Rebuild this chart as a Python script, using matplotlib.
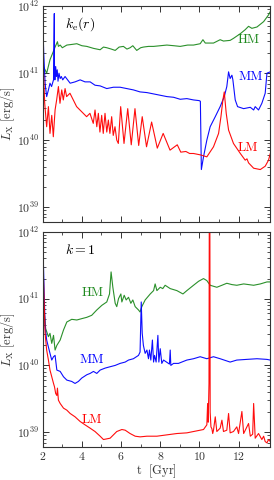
import numpy as np
import matplotlib
matplotlib.use("Agg")
import matplotlib.pyplot as plt
from matplotlib.ticker import MultipleLocator, LogLocator, NullFormatter

plt.rcParams['font.family'] = 'serif'
plt.rcParams['font.serif'] = ['cmr10', 'DejaVu Serif']
plt.rcParams['mathtext.fontset'] = 'cm'
plt.rcParams['axes.formatter.use_mathtext'] = True

# ---------------- data (log10 of L_X in erg/s) ----------------
# top panel: k_e(r)
top_hm_t = [2.00, 2.03, 2.12, 2.20, 2.37, 2.55, 2.63, 2.75, 2.80, 2.89, 3.00, 3.23, 3.50, 3.74, 4.00, 4.25,
            4.60, 4.93, 5.10, 5.27, 5.50, 5.70, 5.90, 6.12, 6.30, 6.46, 6.60, 6.80, 7.00, 7.14, 7.40, 7.66,
            8.00, 8.34, 8.70, 9.02, 9.40, 9.70, 10.04, 10.18, 10.30, 10.50, 10.72, 11.06, 11.23, 11.57,
            11.74, 12.09, 12.34, 12.51, 12.68, 12.94, 13.28, 13.53, 13.62]
top_hm_logL = [41.30, 41.10, 41.05, 41.00, 41.20, 41.33, 41.39, 41.47, 41.40, 41.42, 41.38, 41.42, 41.43, 41.44,
               41.41, 41.40, 41.37, 41.35, 41.39, 41.38, 41.36, 41.34, 41.39, 41.40, 41.36, 41.38, 41.41,
               41.34, 41.38, 41.39, 41.40, 41.40, 41.41, 41.42, 41.41, 41.40, 41.42, 41.42, 41.44, 41.50,
               41.45, 41.45, 41.45, 41.50, 41.48, 41.49, 41.52, 41.59, 41.65, 41.70, 41.67, 41.69, 41.77,
               41.87, 41.92]

top_mm_t = [2.00, 2.05, 2.12, 2.20, 2.29, 2.37, 2.45, 2.55, 2.59, 2.60, 2.62, 2.66, 2.70, 2.74, 2.78, 2.83,
            2.89, 2.95, 3.02, 3.14, 3.40, 3.65, 3.91, 4.16, 4.42, 4.67, 4.93, 5.27, 5.61, 5.95, 6.29, 6.63,
            6.97, 7.32, 7.66, 8.00, 8.34, 8.68, 9.02, 9.36, 9.70, 9.99, 10.05, 10.10, 10.21, 10.38, 10.55,
            10.81, 11.06, 11.27, 11.40, 11.49, 11.57, 11.66, 11.71, 11.83, 11.95, 12.26, 12.60, 12.77,
            12.85, 13.02, 13.19, 13.36, 13.45, 13.62]
top_mm_logL = [41.80, 41.30, 40.85, 40.65, 40.75, 40.85, 40.80, 40.90, 41.89, 41.00, 40.90, 41.10, 40.95,
               41.05, 40.88, 41.00, 40.92, 40.95, 40.90, 40.95, 40.85, 40.87, 40.90, 40.87, 40.87, 40.82,
               40.81, 40.77, 40.79, 40.79, 40.77, 40.75, 40.72, 40.71, 40.69, 40.67, 40.65, 40.64, 40.61,
               40.62, 40.60, 40.59, 40.58, 39.56, 39.75, 40.00, 40.20, 40.35, 40.50, 40.65, 40.80, 41.02,
               40.92, 40.97, 40.90, 40.60, 40.50, 40.47, 40.49, 40.45, 40.50, 40.45, 40.55, 40.70, 41.00,
               41.02]

top_lm_t = [2.00, 2.03, 2.10, 2.20, 2.29, 2.37, 2.46, 2.54, 2.63, 2.71, 2.80, 2.88, 2.97, 3.05, 3.14, 3.22,
            3.39, 3.56, 3.73, 3.90, 4.07, 4.24, 4.41, 4.58, 4.67, 4.76, 4.84, 4.92, 5.01, 5.09, 5.18, 5.27,
            5.35, 5.43, 5.52, 5.60, 5.69, 5.78, 5.86, 5.98, 6.15, 6.34, 6.52, 6.71, 6.90, 7.08, 7.30, 7.56,
            7.85, 8.15, 8.50, 8.87, 9.05, 9.31, 9.50, 9.70, 10.04, 10.38, 10.72, 10.98, 11.10, 11.20,
            11.27, 11.37, 11.49, 11.74, 12.09, 12.34, 12.43, 12.51, 12.77, 13.11, 13.36, 13.53, 13.62]
top_lm_logL = [41.30, 41.09, 40.55, 40.20, 40.50, 40.10, 40.37, 40.05, 40.45, 40.60, 40.80, 40.55, 40.75,
               40.60, 40.77, 40.65, 40.70, 40.60, 40.50, 40.45, 40.40, 40.35, 40.40, 40.25, 40.45, 40.20,
               40.40, 40.12, 40.37, 40.10, 40.40, 40.12, 40.30, 40.10, 40.35, 40.07, 40.20, 40.00, 39.95,
               40.50, 39.95, 40.47, 39.93, 40.47, 39.92, 40.35, 39.90, 40.27, 39.88, 40.10, 39.85, 39.93,
               39.82, 39.83, 39.80, 39.80, 39.78, 39.75, 39.90, 40.10, 40.35, 40.60, 40.72, 40.40, 40.15,
               39.95, 39.80, 39.70, 39.72, 39.66, 39.58, 39.56, 39.61, 39.70, 39.80]

# bottom panel: k = 1
bot_hm_t = [2.00, 2.07, 2.15, 2.29, 2.37, 2.46, 2.55, 2.63, 2.72, 2.89, 3.06, 3.23, 3.48, 3.74, 3.99, 4.25,
            4.50, 4.76, 5.02, 5.27, 5.41, 5.49, 5.58, 5.70, 5.78, 5.87, 5.99, 6.04, 6.16, 6.26, 6.38, 6.50,
            6.60, 6.72, 6.89, 6.97, 7.06, 7.23, 7.49, 7.66, 7.74, 7.83, 8.00, 8.13, 8.25, 8.51, 8.85, 9.16,
            9.36, 9.70, 9.96, 10.21, 10.38, 10.55, 10.89, 11.15, 11.40, 11.66, 11.91, 12.26, 12.77, 13.11,
            13.45, 13.62]
bot_hm_logL = [40.90, 40.83, 40.55, 40.43, 40.48, 40.33, 40.45, 40.23, 40.30, 40.38, 40.53, 40.65, 40.69,
               40.68, 40.70, 40.72, 40.75, 40.83, 40.90, 40.95, 41.07, 41.40, 41.17, 40.93, 40.88, 41.00,
               41.07, 40.95, 41.05, 40.98, 41.02, 40.93, 40.98, 40.88, 40.83, 40.80, 40.88, 40.98, 41.07,
               41.12, 41.22, 41.12, 41.17, 41.15, 41.20, 41.15, 41.12, 41.07, 41.12, 41.20, 41.26, 41.30,
               41.27, 41.20, 41.17, 41.20, 41.23, 41.21, 41.20, 41.22, 41.20, 41.22, 41.25, 41.25]

bot_mm_t = [2.00, 2.03, 2.12, 2.20, 2.37, 2.46, 2.55, 2.63, 2.72, 2.89, 3.06, 3.23, 3.48, 3.65, 3.82, 3.99,
            4.25, 4.42, 4.59, 4.76, 4.93, 5.19, 5.44, 5.70, 5.95, 6.21, 6.38, 6.63, 6.89, 6.97, 7.03, 7.08,
            7.14, 7.23, 7.32, 7.40, 7.45, 7.52, 7.60, 7.66, 7.71, 7.79, 7.88, 7.93, 8.00, 8.08, 8.17, 8.47,
            8.51, 8.54, 8.68, 8.93, 9.10, 9.36, 9.70, 10.04, 10.38, 10.72, 11.06, 11.57, 11.91, 12.41,
            12.94, 13.45, 13.62]
bot_mm_logL = [41.90, 41.57, 40.58, 40.38, 40.18, 40.08, 40.13, 40.15, 39.93, 39.91, 39.83, 39.78, 39.76,
               39.73, 39.76, 39.81, 39.86, 39.88, 39.91, 39.88, 39.93, 39.96, 39.98, 40.00, 40.03, 40.05,
               40.08, 40.10, 40.15, 40.20, 40.95, 40.48, 40.30, 40.18, 40.23, 40.10, 40.23, 40.08, 40.38,
               40.05, 40.15, 40.05, 40.45, 40.05, 40.25, 40.03, 40.08, 40.02, 40.23, 40.00, 40.03, 40.03,
               40.05, 40.08, 40.10, 40.13, 40.10, 40.13, 40.10, 40.05, 40.08, 40.09, 40.10, 40.09, 40.08]

bot_lm_t = [2.00, 2.03, 2.12, 2.20, 2.29, 2.37, 2.46, 2.55, 2.60, 2.66, 2.72, 2.75, 2.80, 2.89, 3.06, 3.23,
            3.40, 3.65, 3.91, 4.16, 4.42, 4.67, 4.93, 5.10, 5.27, 5.44, 5.61, 5.78, 6.04, 6.21, 6.46, 6.72,
            6.97, 7.32, 7.83, 8.34, 8.85, 9.36, 9.87, 10.21, 10.38, 10.42, 10.45, 10.49, 10.51, 10.53,
            10.55, 10.59, 10.64, 10.68, 10.72, 10.81, 10.89, 11.06, 11.15, 11.23, 11.40, 11.49, 11.57,
            11.74, 11.91, 12.00, 12.17, 12.26, 12.51, 12.60, 12.72, 12.77, 12.85, 13.02, 13.19, 13.28,
            13.36, 13.45, 13.53, 13.62]
bot_lm_logL = [41.50, 41.37, 40.48, 40.23, 40.08, 39.93, 39.83, 39.73, 39.68, 39.58, 39.55, 39.66, 39.48,
               39.43, 39.36, 39.33, 39.28, 39.23, 39.16, 39.11, 39.06, 39.01, 38.94, 38.89, 38.90, 38.91,
               38.96, 39.01, 39.04, 39.03, 38.98, 38.94, 38.93, 38.94, 38.94, 38.96, 38.98, 38.99, 39.02,
               39.04, 39.11, 39.43, 39.15, 39.73, 43.00, 43.00, 39.30, 39.08, 39.05, 38.98, 39.03, 39.23,
               39.01, 39.06, 39.18, 39.01, 39.03, 39.28, 38.99, 39.01, 39.08, 38.98, 39.31, 38.98, 39.13,
               38.94, 38.97, 39.43, 38.91, 38.98, 38.89, 38.94, 38.86, 38.84, 38.89, 38.86]

colors = {'HM': '#1f8a1f', 'MM': '#0000ff', 'LM': '#ff0000'}

panels = [
    dict(series=[(top_hm_t, top_hm_logL, 'HM'), (top_mm_t, top_mm_logL, 'MM'), (top_lm_t, top_lm_logL, 'LM')],
         title=r'$k_{\rm e}(r)$',
         labels={'HM': (0.86, 0.842), 'MM': (0.86, 0.671), 'LM': (0.86, 0.342)}),
    dict(series=[(bot_hm_t, bot_hm_logL, 'HM'), (bot_mm_t, bot_mm_logL, 'MM'), (bot_lm_t, bot_lm_logL, 'LM')],
         title=r'$k=1$',
         labels={'HM': (0.17, 0.715), 'MM': (0.163, 0.403), 'LM': (0.17, 0.124)}),
]

fig = plt.figure(figsize=(2.74, 4.8), dpi=100)
rects = [[0.156, 0.538, 0.829, 0.449], [0.156, 0.069, 0.829, 0.448]]

for i, (p, r) in enumerate(zip(panels, rects)):
    ax = fig.add_axes(r)
    for t, lg, name in p['series']:
        ax.plot(t, 10.0 ** np.array(lg), color=colors[name], lw=0.8, alpha=0.95)
    ax.set_yscale('log')
    ax.set_xlim(2, 13.6)
    ax.set_ylim(10 ** 38.78, 1e42)
    ax.xaxis.set_major_locator(MultipleLocator(2))
    ax.xaxis.set_minor_locator(MultipleLocator(1))
    ax.yaxis.set_major_locator(LogLocator(base=10, numticks=10))
    ax.yaxis.set_minor_locator(LogLocator(base=10, subs=np.arange(2, 10), numticks=10))
    ax.yaxis.set_minor_formatter(NullFormatter())
    ax.tick_params(which='both', direction='in', top=True, right=True, colors='#333333', labelsize=8.5,
                   labelcolor='#333333')
    ax.tick_params(which='major', length=4, width=0.7, pad=2.5)
    ax.tick_params(which='minor', length=2, width=0.6)
    for s in ax.spines.values():
        s.set_linewidth(0.8)
        s.set_color('#333333')
    ax.set_ylabel(r'$L_{\rm X}\ [{\rm erg/s}]$', fontsize=9, color='#333333')
    ax.yaxis.set_label_coords(-0.112, 0.5)
    ax.text(0.097, 0.915, p['title'], transform=ax.transAxes, fontsize=10, va='center', ha='left')
    for name, (x, y) in p['labels'].items():
        ax.text(x, y, name, transform=ax.transAxes, color=colors[name], fontsize=9.5,
                va='center', ha='left')
    if i == 0:
        ax.tick_params(labelbottom=False)
    else:
        ax.set_xlabel(r'${\rm t\ \ [Gyr]}$', fontsize=9, color='#333333')
        ax.xaxis.set_label_coords(0.5, -0.074)

fig.savefig('out.png', dpi=100)
